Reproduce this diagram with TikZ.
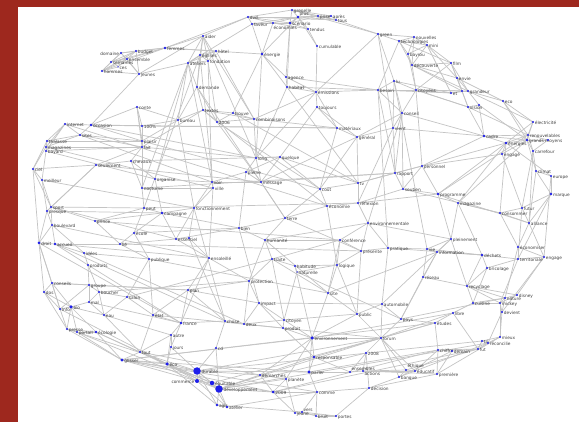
\documentclass[tikz,border=0pt]{standalone}
\usepackage{fontspec}
\newfontfamily\lblfont{DejaVu Sans}
\definecolor{dotblue}{RGB}{30,30,235}
\definecolor{frame}{RGB}{158,40,30}
\definecolor{edgegray}{RGB}{196,196,196}
\pgfdeclarelayer{bg}
\pgfsetlayers{bg,main}
\tikzset{
  dot/.style={circle,fill=dotblue,inner sep=0pt,draw=none},
  lbl/.style={font=\lblfont\fontsize{4.3}{5}\selectfont,text=black!75,inner sep=0.4pt,yshift=-1.3pt},
  edge/.style={draw=edgegray,line width=0.7pt}
}
\begin{document}
\begin{tikzpicture}[x=1pt,y=1pt]
\useasboundingbox (0,0) rectangle (579,-422);
\foreach \id/\x/\y/\s/\t in {
t1/292/10/2.2/grenelle, t2/248/17/2.2/dvd, t3/252/24/2.2/faveur, t4/273/23/2.2/{},
t5/290/23/2.8/scénario, t6/298/17/2.8/{}, t7/318/16/2.2/prise, t8/331/16/2.2/après,
t9/336/20/2.2/tous, t10/308/29/2.2/tendus, t11/317/46/2.2/cumulable,
a1/136/51/2.2/budget, a2/121/53/2.2/{}, a3/127/59/2.2/ensemble, a4/111/62/2.2/semaines,
a5/118/67/1.5/ces, a6/102/71/2.2/hommes, a7/139/74/2.2/jeunes, a8/165/48/2.6/femmes,
b1/203/36/2.2/aider, b2/216/51/2.2/hôtel, b3/200/55/2.2/églises, b4/208/61/2.2/fondation,
b5/188/63/2.2/ateliers, b6/262/54/2.6/énergie, b7/197/87/2.2/demande, b8/286/77/2.2/agence,
b9/287/87/2.2/habitat, b10/203/110/2.2/textes, b11/178/120/2.2/bureau, b12/233/113/2.2/trouve,
b13/217/122/2.2/2006, b14/254/119/2.2/combinaisons,
c1/378/34/2.2/green, c2/399/41/2.2/technologies, c3/414/37/2.2/nouvelles, c4/427/45/2.2/mini,
c5/408/54/2.2/bayrou, c6/412/65/2.2/découverte, c7/394/81/2.2/lu, c8/378/90/2.2/besoin,
c9/416/90/2.2/citoyens, c10/316/92/2.2/émissions, c11/317/107/2.2/toujours, c12/402/113/2.2/conseil,
c13/337/128/2.2/matériaux, c14/393/128/2.2/vient, c15/357/137/2.2/général,
d1/451/63/2.2/film, d2/457/78/2.2/envie, d3/451/93/2.2/et, d4/462/91/2.2/{}, d5/468/91/2.2/grandeur,
d6/468/107/2.2/vision, d7/479/105/2.2/{}, d8/503/101/2.2/eco, d9/533/122/2.2/électricité,
d10/484/136/2.6/cadre, d11/528/135/2.2/renouvelables, d12/527/140/2.6/grands moyens,
d13/506/143/2.8/énergies, d14/548/140/2.2/{}, d15/502/154/2.2/engagé, d16/533/151/2.2/carrefour,
d17/536/171/2.2/climat, d18/551/176/2.2/europe, d19/551/194/2.6/marque,
e1/137/107/2.2/conte, e2/65/124/2.2/internet, e3/91/125/2.6/occasion, e4/142/126/2.2/100\%,
e5/80/135/2.2/sites, e6/142/141/2.2/plaisir, e7/47/141/2.2/thalasse, e8/46/147/2.2/magazines,
e9/46/151/2.2/bayard, e10/142/147/2.2/fait, e11/33/169/2.2/ciel, e12/96/165/2.2/seulement,
e13/131/161/2.2/chevaux, e14/42/180/2.2/meilleur, e15/155/179/2.2/organise, e16/142/188/2.2/nocturne,
e17/51/207/2.2/sport, e18/47/211/2.2/presque, e19/52/225/2.2/boulevard, e20/95/221/2.2/prince,
e21/144/208/2.2/peut, e22/162/213/2.8/campagne, e23/39/243/3.0/droit, e24/55/244/2.6/accueil,
e25/134/233/2.2/école, e26/120/244/2.2/lié, e27/84/253/2.2/idées, e28/88/265/2.2/produits,
e29/149/259/2.2/publique, e30/52/283/2.2/conseils,
f1/256/158/2.2/long, f2/280/157/2.2/quelque, f3/246/172/2.2/pleine, f4/261/182/2.2/message,
f5/212/182/2.2/voir, f6/213/188/2.2/ville, f7/194/208/2.2/fonctionnement, f8/285/218/2.2/terre,
f9/239/228/2.2/bien, f10/176/239/2.2/essentiel, f11/189/238/2.2/{}, f12/265/240/2.2/humanité,
f13/209/258/2.2/ensoleillé, f14/272/259/2.2/traite, f15/249/281/2.2/protection,
g1/395/173/2.2/rapport, g2/422/166/2.2/personnel, g3/358/183/2.2/tv, g4/320/189/2.2/coût,
g5/403/189/2.2/soutien, g6/438/194/2.8/programme, g7/327/206/2.2/économie, g8/358/203/2.2/réflexion,
g9/368/223/2.2/environnementale, g10/340/240/2.2/conférence, g11/388/248/2.2/pratique,
g12/361/251/2.2/présente, g13/427/249/2.2/vie, g14/337/265/2.2/logique, g15/295/266/2.2/habitude,
g16/297/272/1.5/naturelle, g17/423/277/2.2/réseau,
h1/458/203/2.2/magazine, h2/522/208/2.2/futur, h3/500/213/2.2/consommer, h4/529/223/2.2/alliance,
h5/451/239/2.2/pleinement, h6/437/252/2.2/information, h7/482/255/2.8/déchets, h8/518/247/2.2/économiser,
h9/544/257/2.2/engage, h10/518/259/2.2/territoriale, h11/487/268/2.2/bricolage, h12/467/286/2.2/recyclage,
h13/517/295/2.2/disney, h14/505/298/2.2/nature, h15/473/303/2.2/cuisine, h16/500/303/2.2/mickey,
h17/502/312/2.2/devient, h18/453/313/2.2/libre, h19/435/323/2.2/études, h20/500/337/2.2/mieux,
h21/482/341/2.2/tri, h22/488/343/2.2/réconcilie, h23/478/349/2.2/fut, h24/438/350/2.2/chiffre,
h25/452/351/2.2/demain, h26/437/374/2.2/première,
i1/89/285/2.2/groupe, i2/44/292/2.2/dos, i3/99/292/2.2/boucher, i4/127/297/2.2/salon,
i5/89/302/2.2/mal, i6/60/309/2.2/info, i7/71/307/3.5/bio, i8/104/315/2.2/eau, i9/153/315/2.2/état,
i10/67/329/2.2/presse, i11/77/332/2.2/portail, i12/96/332/2.8/écologie, i13/140/352/2.2/tout,
i14/122/360/3.2/glisser,
j1/188/290/2.2/plan, j2/259/303/2.2/impact, j3/181/323/2.6/france, j4/225/321/2.2/chose,
j5/244/324/2.2/deux, j6/284/320/2.2/citoyen, j7/283/328/2.2/produit, j8/171/335/2.2/autre,
j9/171/347/2.2/jours, j10/216/348/2.2/cd, j11/167/364/3.5/éco, j12/197/371/7.5/durable,
j13/197/381/4/{}, j14/212/383/4.5/équitable, j15/219/389/7.5/développement,
j16/217/405/2.6/agir, j17/227/407/2.6/atelier, j18/260/375/2.2/démarches, j19/273/392/3/2009,
j20/286/379/2.2/planète, j21/295/413/2.2/jeune,
k1/328/293/2.2/site, k2/382/304/2.2/automobile, k3/357/314/2.2/public, k4/401/319/2.2/pays,
k5/312/338/3.5/environnement, k6/381/338/2.2/forum, k7/366/353/2.2/2008, k9/314/357/2.6/responsable,
k10/309/372/3.2/parler, k11/350/372/2.2/{}, k12/363/371/2.2/{}, k13/406/370/2.2/{},
k14/415/371/2.2/éducatif, k15/399/377/2.2/banque, k16/369/388/2.2/décision, k17/317/392/2.2/comme,
k18/302/412/2.2/{}, k19/316/416/2.2/bruit, k20/336/416/2.2/portes}
  \node[dot,minimum size=\s pt,label={[lbl]east:\t}] (\id) at (\x,-\y) {};
\node[lbl,anchor=south west] at (t6.north east) {plus};
\node[lbl,anchor=north west,yshift=0.3pt] at (t4.south) {économies};
\node[lbl,anchor=east,yshift=0.3pt] at (a2.west) {domaine};
\node[lbl,anchor=east] at (j13.west) {commerce};
\node[lbl,anchor=south west,yshift=1.3pt] at (k11.north east) {ensembles};
\node[lbl,anchor=north west,yshift=1.3pt] at (k12.south east) {actions};
\node[lbl,anchor=south west,yshift=1.3pt] at (k13.north east) {éthique};
\node[lbl,anchor=south west] at (k18.north east) {vers};
\begin{pgfonlayer}{bg}
\fill[white] (0,0) rectangle (579,-422);
\fill[frame] (0,0) rectangle (579,-7);
\fill[frame] (0,0) rectangle (18,-422);
\foreach \a/\b in {
t1/t2, t1/t5, t1/t6, t1/t7, t1/t8, t2/t3, t2/t4, t2/t5, t2/t6, t3/t4, t3/t5, t4/t5, t4/t6, t5/t6, t5/t7, t6/t7, t6/t8, t7/t8, t7/t9, t8/t9, t6/t10, t5/t10, t10/t11, t4/t10, t2/t9, t3/t6, t6/t9, t1/t9,
t2/b1, t2/a8, t3/b6, t5/b8, t5/b9, t4/b6, t11/c10, t9/c1, t6/b6, t11/t6, t3/b5, t1/c1,
a1/a2, a1/a3, a1/a4, a1/a6, a2/a3, a2/a4, a2/a6, a3/a4, a3/a6, a4/a6, a1/a8, a2/a8, a3/a8, a4/a8, a1/a7, a2/a7, a3/a7, a6/a7, a5/a3, a5/a6, a7/e3, a8/b1, a8/b2, a8/b6, a6/a8,
b1/b3, b1/b4, b1/b5, b1/b7, b2/b3, b2/b4, b2/b5, b3/b4, b3/b5, b4/b5, b5/b7, b5/b11, b3/b7, b1/b14, b6/b8, b6/b9, b6/b12, b6/f1, b7/b10, b7/b13, b7/b11, b8/b9, b8/c10, b9/c10, b9/c8, b9/f1, b10/b11, b10/b12, b10/b13, b10/b14, b12/b13, b12/b14, b13/b14, b14/c13, b14/c10, b11/e4, b11/e6, b10/e10, b5/f5, b3/f6, b4/f5, b1/f1, b4/b13, b2/b14,
c1/c2, c1/c3, c1/c7, c1/c14, c2/c3, c2/c4, c2/c5, c2/c6, c3/c4, c3/c5, c3/c6, c4/c5, c4/c6, c5/c6, c4/d1, c4/d2, c6/d1, c6/d2, c6/d4, c6/d5, c6/c9, c5/c9, c7/c8, c7/c9, c7/c12, c7/c14, c8/c9, c8/c10, c8/c12, c9/d4, c9/d5, c9/d6, c9/c12, c10/c11, c10/c13, c11/c13, c11/c15, c12/c14, c12/c15, c12/g1, c12/g5, c13/c15, c14/c15, c14/g1, c15/g3, c15/g4, c13/g4, c1/c10, c2/c8,
d1/d2, d1/d4, d1/d5, d2/d4, d2/d5, d2/d6, d3/d4, d3/d5, d4/d5, d4/d6, d5/d7, d5/d8, d6/d7, d8/d9, d8/d11, d8/d12, d9/d11, d9/d12, d10/d11, d10/d12, d10/d13, d11/d12, d11/d13, d12/d13, d11/d14, d12/d14, d13/d15, d12/d16, d11/d16, d12/d17, d16/d17, d17/d18, d13/d18, d18/d19, d17/d19, d12/d15, d7/d12, d6/d11, d15/h2, d16/h4, d13/h3, d19/h2, d19/h4, d1/c9, d3/c8, d3/c9, d3/c7, d9/d13, d14/d16, d6/d10, d7/d10, d2/d8, d5/d9,
e1/e4, e1/e6, e1/e10, e2/e3, e2/e5, e2/e7, e2/e8, e2/e9, e3/e4, e3/e5, e3/e6, e5/e7, e5/e8, e5/e6, e5/e10, e7/e8, e7/e9, e8/e9, e7/e6, e8/e10, e9/e10, e7/e11, e8/e11, e9/e14, e11/e14, e11/e17, e11/e23, e14/e17, e14/e18, e12/e17, e12/e18, e12/e10, e13/e15, e13/e16, e13/e10, e4/e6, e4/e10, e6/e10, e10/e16, e6/e16, e16/e21, e15/e22, e15/f5, e16/f6, e17/e18, e17/e19, e17/e20, e18/e19, e18/e23, e19/e23, e19/e24, e17/e21, e18/e22, e20/e21, e20/e22, e20/e26, e21/e22, e21/e25, e22/e25, e22/f7, e22/f10, e23/e24, e23/e30, e23/i2, e23/i6, e24/e26, e24/e27, e24/e28, e19/e27, e25/e26, e25/e29, e26/e29, e27/e28, e27/e29, e28/i1, e28/i3, e29/i4, e29/i9, e30/i2, e30/i6, e30/i7, e30/i1, e26/f10, e25/f9, e12/e13, e1/e3, e11/e12,
f1/f2, f1/f3, f1/f4, f2/f3, f2/f4, f3/f4, f3/f5, f4/f5, f5/f6, f6/f7, f5/f7, f4/f8, f3/f9, f8/f9, f8/f12, f9/f12, f9/f10, f10/f11, f11/f13, f10/f13, f12/f14, f13/f15, f14/f15, f12/f15, f7/f10, f7/f11, f6/f13, f8/g4, f8/g7, f2/g3, f2/g4, f1/b14, f4/g1, f12/g9, f14/g15, f14/g10, f15/j2, f15/j1, f13/j1, f13/j3, f11/j4,
g1/g2, g1/g3, g1/g5, g2/g6, g2/g5, g3/g4, g3/g8, g4/g7, g5/g6, g7/g8, g8/g9, g9/g10, g9/g11, g9/g12, g10/g12, g10/g14, g11/g12, g11/g13, g12/g14, g13/g17, g14/g15, g14/g16, g15/g16, g5/g8, g6/h1, g6/h5, g13/h5, g13/h6, g17/h6, g17/k4, g11/k2, g10/k1, g14/k1, g12/k3, g2/d15, g6/d13,
h1/h3, h1/h5, h1/h7, h2/h3, h2/h4, h3/h4, h3/h8, h4/h8, h4/h9, h8/h9, h8/h10, h9/h10, h10/h11, h7/h10, h7/h11, h7/h12, h6/h7, h5/h6, h5/h12, h11/h12, h11/h15, h12/h13, h12/h14, h12/h15, h12/h16, h13/h14, h13/h16, h14/h16, h14/h17, h16/h17, h15/h18, h15/h16, h15/h14, h17/h20, h16/h20, h18/h19, h18/h23, h19/h24, h20/h21, h20/h22, h21/h22, h21/h23, h22/h23, h23/h24, h23/h25, h24/h25, h25/h26, h24/h26, h20/h26, h9/h13, h8/h14, h14/k4, h19/k4, h18/k6, h22/k14, h23/k13, h25/k15, h26/k16, h10/h16, h9/h17, h17/h22,
i1/i3, i1/i5, i1/i6, i2/i6, i2/i7, i3/i4, i3/i5, i3/i8, i4/i8, i4/i9, i5/i7, i5/i8, i6/i7, i6/i10, i7/i10, i7/i11, i7/i12, i7/i8, i10/i11, i11/i12, i12/i14, i10/i14, i11/i14, i12/i13, i13/i14, i8/i13, i9/i13, i14/j11, i14/j12, i14/j13, i13/j11, i12/j15, i14/k17, i14/j19, i14/k10, i9/j1, i10/i12, i2/i10,
j1/j3, j1/j4, j1/j2, j2/j5, j2/j6, j2/j7, j3/j4, j3/j8, j3/j9, j4/j5, j4/j10, j5/j7, j5/j6, j6/j7, j8/j9, j8/j11, j9/j11, j9/j12, j10/j12, j10/j15, j11/j12, j11/j13, j11/j14, j11/j15, j12/j13, j12/j14, j12/j15, j13/j14, j13/j15, j14/j15, j15/j16, j15/j17, j16/j17, j12/j16, j13/j17, j15/j18, j15/j19, j15/j20, j12/j18, j14/j19, j18/j19, j18/j20, j19/j20, j19/j21, j20/j21, j21/k18, j19/k17, j18/k5, j20/k5, j15/k9, j12/k10, j6/k5, j7/k5, j7/k9, j3/i9, j8/i13, j11/i13, j11/j16, j14/j17,
k1/k3, k1/k5, k2/k3, k2/k4, k2/k6, k3/k6, k3/k5, k5/k6, k5/k9, k5/k10, k6/k7, k6/k13, k6/k14, k6/k15, k7/k11, k7/k12, k7/k16, k9/k10, k9/k11, k10/k11, k10/k17, k11/k12, k12/k13, k12/k14, k13/k14, k13/k15, k14/k15, k15/k16, k16/k17, k17/k18, k17/k19, k18/k19, k19/k20, k18/k20, k16/k20, k6/h19, k14/h24, k4/k6,
e2/g7, e3/c13, e6/g4, e10/f1, e12/f4, e20/g10, e22/f9, e26/g12, e24/j4, e27/j5, e29/k1, e28/j3, i4/f14, i9/k6, i14/k5, i14/h19, j12/k6, j15/k6, j15/k7, j12/h21, j19/h24, i13/j18, e21/g8, e16/g1, e13/f2, b7/f8, b10/g7, b12/g3, b13/g4, b11/f7, b5/e16, b3/e21, c15/f4, c14/g8, c12/g9, c8/g11, c7/g13, c9/g2, d10/g2, d11/g6, d12/h1, d16/h2, d17/h4, d18/h9, d19/h10, d13/h1, h2/h10, g5/h3, g6/h4, g2/d13, g13/h7, g16/k4, g14/k3, f12/k1, f14/j6, f15/j5, f8/g12, c13/e4, e1/b11, e15/b5, a7/b5, a7/b1, e3/f1, e5/f5, e8/f6, e9/e15, e14/f7, e17/f10, e19/f13, e24/f13, e23/j3, e30/j1, i1/j1, i3/f15, i5/j3, i8/j8, i6/j11, i10/j12, i11/j13, i13/j14, j15/h22, j19/h23, j14/k6, j17/k17, j16/k18, j21/k20, k10/h24, k12/h26, k5/h18, k9/h19, k1/h6, j2/k2, j6/k3, f14/k1, g15/k5, g16/j6, h5/k2, h6/k4, g17/h12, g11/h7, g9/h5, g8/g6, g3/g2, g7/g14, f12/g10, f9/j2, f7/j4, b13/f4, c11/f2, c10/f1, b9/g3, b8/c8, c8/g1, c12/d10, c14/d10, c9/d6, c2/d1, c4/d3}
  \draw[edge] (\a.center) -- (\b.center);
\end{pgfonlayer}
\end{tikzpicture}
\end{document}
